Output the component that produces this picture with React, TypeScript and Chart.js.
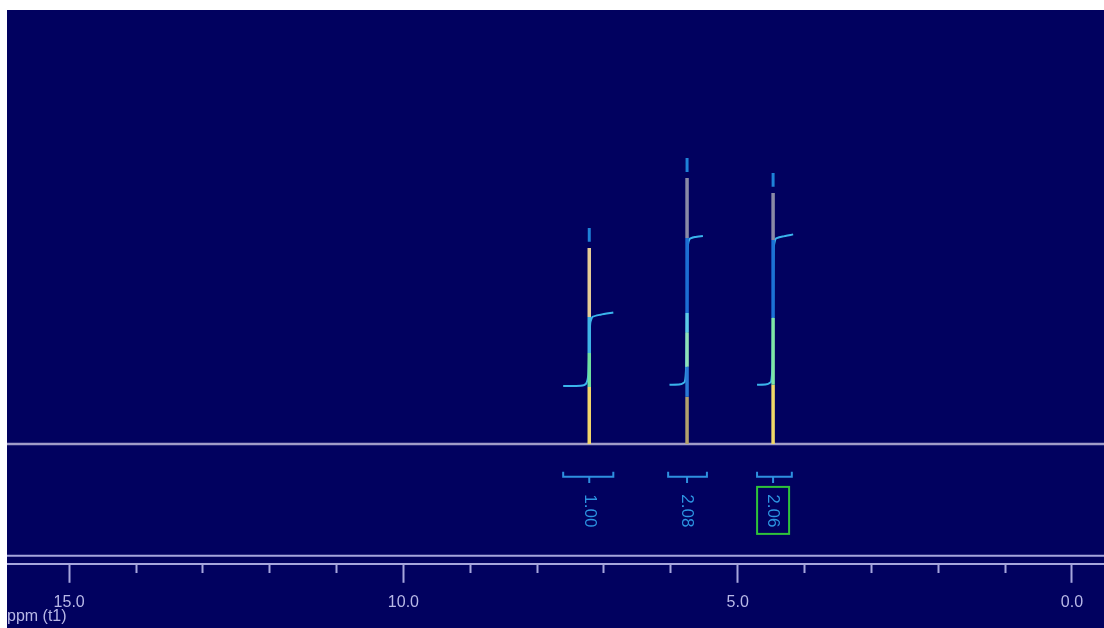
import React, { useEffect, useRef } from "react";
import { Chart, registerables } from "chart.js";

Chart.register(...registerables);

// ---- data ----
const X_MIN = -0.48;
const X_MAX = 15.93;
const Y_MIN = -45.1;
const Y_MAX = 163.2;

const tickValues = [15, 14, 13, 12, 11, 10, 9, 8, 7, 6, 5, 4, 3, 2, 1, 0];
const majorTickValues = [15, 10, 5, 0];

const peakPpm = [7.22, 5.757, 4.47];
const peakHeight = [73.7, 100, 94.4];

// colour bands along each peak (relative intensity, from baseline upward)
const peak1Bands = [0, 21.4, 34.2, 47.7, 73.7];
const peak1Colors = ["#f2d66a", "#6fe0a0", "#3fb4e6", "#e6cc96"];
const peak2Bands = [0, 17.7, 29, 42, 49.2, 77.4, 100];
const peak2Colors = ["#b4a26c", "#2a7ad6", "#8fe0b8", "#5ccbe8", "#1c6ed4", "#8a8aa6"];
const peak3Bands = [0, 22.2, 47.4, 76.7, 94.4];
const peak3Colors = ["#f0d868", "#7ee6a6", "#1c72d6", "#8a8aa6"];

// integral curves
const integral1Ppm = [7.61, 7.35, 7.27, 7.235, 7.22, 7.205, 7.17, 7.05, 6.86];
const integral1Val = [21.8, 21.9, 22.6, 26, 36, 45.5, 47.8, 48.6, 49.4];
const integral2Ppm = [6.02, 5.86, 5.79, 5.77, 5.757, 5.745, 5.72, 5.64, 5.52];
const integral2Val = [22.2, 22.4, 23.4, 30, 52, 74, 77.0, 77.8, 78.2];
const integral3Ppm = [4.71, 4.57, 4.5, 4.48, 4.47, 4.46, 4.43, 4.33, 4.17];
const integral3Val = [22.2, 22.4, 23.4, 30, 52, 74, 77.2, 78.0, 78.8];

// integration regions (brackets) and their values
const integralStart = [7.61, 6.04, 4.71];
const integralEnd = [6.86, 5.46, 4.19];
const integralLabels = ["1.00", "2.08", "2.06"];
const highlightedIntegral = 2;

// ---- styles ----
const BG = "#01015f";
const AXIS_COLOR = "#a6a6dc";
const TICK_TEXT = "#b8b8e6";
const FONT_FAMILY = '"Liberation Sans", Arial, sans-serif';
const LABEL_Y = -25.2;
const BRACKET_TOP = -10.5;
const BRACKET_MID = -12.4;
const BRACKET_LOW = -14.7;

const pts = (xs: number[], ys: number[]) => xs.map((x, i) => ({ x, y: ys[i] }));

const peakDataset = (ppm: number, bands: number[], colors: string[]) => ({
  type: "line" as const,
  data: bands.map((v) => ({ x: ppm, y: v })),
  borderWidth: 3.5,
  borderCapStyle: "butt" as const,
  borderColor: colors[0],
  segment: { borderColor: (ctx: any) => colors[ctx.p0DataIndex] },
  pointRadius: 0,
  order: 1,
});

const overlayPlugin = {
  id: "nmrOverlay",
  beforeDraw(chart: any) {
    const { ctx } = chart;
    ctx.save();
    ctx.fillStyle = BG;
    ctx.fillRect(0, 0, chart.width, chart.height);
    ctx.restore();
  },
  afterDraw(chart: any) {
    const { ctx, chartArea } = chart;
    const xs = chart.scales.x;
    const ys = chart.scales.y;
    ctx.save();
    // upper line of the double axis rule
    ctx.strokeStyle = AXIS_COLOR;
    ctx.lineWidth = 2;
    ctx.beginPath();
    ctx.moveTo(chartArea.left, chartArea.bottom - 8);
    ctx.lineTo(chartArea.right, chartArea.bottom - 8);
    ctx.stroke();
    // integral values (vertical text)
    ctx.font = `17px ${FONT_FAMILY}`;
    ctx.fillStyle = "#2c94e2";
    integralLabels.forEach((t, i) => {
      const px = xs.getPixelForValue(peakPpm[i]);
      const py = ys.getPixelForValue(LABEL_Y);
      ctx.save();
      ctx.translate(px, py);
      ctx.rotate(Math.PI / 2);
      ctx.textAlign = "center";
      ctx.textBaseline = "middle";
      ctx.fillText(t, 0, 0);
      ctx.restore();
      if (i === highlightedIntegral) {
        ctx.strokeStyle = "#2fc43a";
        ctx.lineWidth = 2;
        ctx.strokeRect(px - 16, py - 24, 32, 47);
      }
    });
    // axis title
    ctx.font = `16px ${FONT_FAMILY}`;
    ctx.fillStyle = TICK_TEXT;
    ctx.textAlign = "left";
    ctx.textBaseline = "middle";
    ctx.fillText("ppm (t1)", 0, chart.height - 11);
    ctx.restore();
  },
};

export default function App() {
  const canvasRef = useRef<HTMLCanvasElement>(null);

  useEffect(() => {
    if (!canvasRef.current) return;

    const markerData: any[] = [];
    const bracketData: any[] = [];
    peakPpm.forEach((p, i) => {
      markerData.push({ x: p, y: peakHeight[i] + 2.3 }, { x: p, y: peakHeight[i] + 7.5 }, { x: p, y: null });
      const s = integralStart[i];
      const e = integralEnd[i];
      bracketData.push(
        { x: s, y: BRACKET_TOP },
        { x: s, y: BRACKET_MID },
        { x: p, y: BRACKET_MID },
        { x: p, y: BRACKET_LOW },
        { x: p, y: BRACKET_MID },
        { x: e, y: BRACKET_MID },
        { x: e, y: BRACKET_TOP },
        { x: e, y: null }
      );
    });

    const chart = new Chart(canvasRef.current, {
      type: "line",
      data: {
        datasets: [
          peakDataset(peakPpm[0], peak1Bands, peak1Colors),
          peakDataset(peakPpm[1], peak2Bands, peak2Colors),
          peakDataset(peakPpm[2], peak3Bands, peak3Colors),
          {
            type: "line",
            data: markerData,
            borderColor: "#1e82d8",
            borderWidth: 3,
            borderCapStyle: "butt",
            spanGaps: false,
            pointRadius: 0,
            order: 1,
          },
          ...[pts(integral1Ppm, integral1Val), pts(integral2Ppm, integral2Val), pts(integral3Ppm, integral3Val)].map(
            (d) => ({
              type: "line" as const,
              data: d,
              borderColor: "#3ab4ec",
              borderWidth: 2,
              pointRadius: 0,
              tension: 0.2,
              order: 2,
            })
          ),
          {
            type: "line",
            data: bracketData,
            borderColor: "#2e90e0",
            borderWidth: 2,
            spanGaps: false,
            pointRadius: 0,
            order: 2,
          },
          {
            type: "line",
            data: [
              { x: X_MAX, y: 0 },
              { x: X_MIN, y: 0 },
            ],
            borderColor: "#a09cc8",
            borderWidth: 2.5,
            pointRadius: 0,
            order: 3,
          },
        ] as any,
      },
      options: {
        animation: false,
        responsive: true,
        maintainAspectRatio: false,
        parsing: false,
        normalized: false,
        layout: { padding: { left: 0, right: 0, top: 0, bottom: 6 } },
        plugins: { legend: { display: false }, tooltip: { enabled: false }, title: { display: false } },
        events: [],
        scales: {
          x: {
            type: "linear",
            reverse: true,
            min: X_MIN,
            max: X_MAX,
            afterBuildTicks: (scale: any) => {
              scale.ticks = tickValues.map((v) => ({ value: v }));
            },
            grid: {
              drawOnChartArea: false,
              drawTicks: true,
              tickLength: 19,
              tickColor: AXIS_COLOR,
              tickWidth: 2,
              tickBorderDash: (ctx: any) =>
                ctx.tick && majorTickValues.includes(ctx.tick.value) ? [] : [8, 40],
            },
            border: { display: true, color: AXIS_COLOR, width: 2 },
            ticks: {
              color: TICK_TEXT,
              font: { size: 16, family: FONT_FAMILY },
              padding: 10,
              maxRotation: 0,
              minRotation: 0,
              autoSkip: false,
              callback: (v: any) => (majorTickValues.includes(v) ? Number(v).toFixed(1) : ""),
            },
          },
          y: {
            type: "linear",
            display: false,
            min: Y_MIN,
            max: Y_MAX,
          },
        },
      },
      plugins: [overlayPlugin],
    });
    return () => chart.destroy();
  }, []);

  return (
    <div style={{ position: "fixed", left: 7, top: 10, width: 1097, height: 618 }}>
      <canvas ref={canvasRef} />
    </div>
  );
}
